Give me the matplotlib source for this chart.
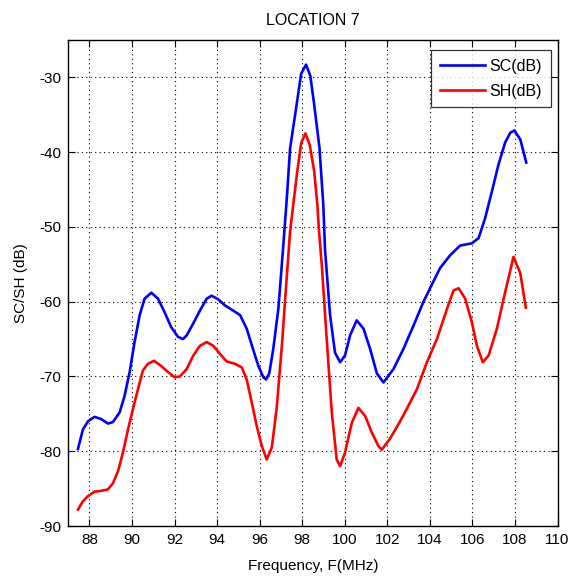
import matplotlib
matplotlib.use('Agg')
import matplotlib.pyplot as plt

# Измеренные уровни сигнала, точка 7
freq_sc = [87.46, 87.69, 87.93, 88.24, 88.55, 88.87, 89.10, 89.42, 89.65, 89.89,
           90.12, 90.36, 90.59, 90.91, 91.22, 91.53, 91.84, 92.16, 92.40, 92.57,
           92.88, 93.19, 93.51, 93.74, 94.06, 94.37, 94.76, 95.08, 95.39, 95.66,
           95.94, 96.17, 96.30, 96.45, 96.64, 96.88, 97.11, 97.28, 97.43, 97.74,
           97.95, 98.18, 98.38, 98.56, 98.81, 98.99, 99.07, 99.31, 99.54, 99.78,
           100.01, 100.25, 100.56, 100.88, 101.19, 101.51, 101.82, 102.29, 102.76, 103.23,
           103.70, 104.01, 104.48, 104.95, 105.42, 105.97, 106.29, 106.60, 106.92, 107.23,
           107.54, 107.78, 107.97, 108.25, 108.53]
sc_db = [-79.7, -77.1, -76.0, -75.4, -75.7, -76.3, -76.1, -74.8, -72.6, -69.4,
         -65.4, -61.8, -59.6, -58.8, -59.6, -61.4, -63.4, -64.7, -65.0, -64.5,
         -62.9, -61.2, -59.6, -59.2, -59.7, -60.5, -61.2, -61.8, -63.6, -66.1,
         -68.6, -70.1, -70.4, -69.6, -66.3, -60.9, -52.5, -46.0, -39.5, -33.6,
         -29.5, -28.3, -29.8, -33.6, -39.4, -47.0, -53.0, -61.8, -66.8, -68.1,
         -67.2, -64.5, -62.5, -63.6, -66.3, -69.6, -70.8, -69.0, -66.3, -63.2,
         -60.0, -58.2, -55.5, -53.8, -52.5, -52.2, -51.5, -48.8, -45.2, -41.6,
         -38.7, -37.4, -37.1, -38.3, -41.4]

freq_sh = [87.46, 87.69, 87.93, 88.24, 88.55, 88.87, 89.10, 89.34, 89.57, 89.81,
           90.04, 90.28, 90.51, 90.75, 91.03, 91.37, 91.69, 92.00, 92.25, 92.57,
           92.88, 93.19, 93.51, 93.82, 94.14, 94.45, 94.84, 95.16, 95.39, 95.63,
           95.86, 96.10, 96.33, 96.57, 96.80, 97.04, 97.27, 97.43, 97.58, 97.77,
           97.95, 98.15, 98.35, 98.56, 98.71, 98.79, 98.92, 99.15, 99.39, 99.62,
           99.78, 100.01, 100.33, 100.64, 100.96, 101.27, 101.58, 101.74, 102.13, 102.60,
           102.92, 103.39, 103.86, 104.33, 104.80, 105.11, 105.35, 105.66, 105.97, 106.21,
           106.49, 106.76, 107.15, 107.54, 107.93, 108.25, 108.51]
sh_db = [-87.8, -86.7, -86.0, -85.4, -85.3, -85.1, -84.3, -82.7, -80.2, -77.1,
         -74.4, -71.7, -69.2, -68.3, -67.9, -68.6, -69.4, -70.1, -70.0, -69.0,
         -67.2, -65.9, -65.4, -65.9, -67.0, -68.0, -68.3, -68.8, -70.4, -73.5,
         -76.6, -79.3, -81.1, -79.5, -74.2, -66.0, -56.8, -50.6, -47.0, -42.5,
         -38.8, -37.5, -39.0, -42.5, -47.0, -50.6, -55.1, -65.0, -74.8, -81.1,
         -82.0, -80.2, -76.2, -74.2, -75.3, -77.5, -79.3, -79.8, -78.3, -76.0,
         -74.3, -71.7, -68.1, -65.0, -61.0, -58.5, -58.2, -59.6, -62.7, -65.9,
         -68.1, -67.2, -63.6, -58.7, -54.0, -56.2, -60.8]

x_ticks = list(range(88, 111, 2))
y_ticks = list(range(-90, -29, 10))

plt.rcParams['font.family'] = ['Liberation Sans', 'DejaVu Sans']
plt.rcParams['font.size'] = 11
plt.rcParams['axes.unicode_minus'] = False

fig = plt.figure(figsize=(5.73, 5.79), dpi=100)
ax = fig.add_axes([0.119, 0.0915, 0.854, 0.8395])

ax.plot(freq_sc, sc_db, color='#0000ff', linewidth=1.9, label='SC(dB)')
ax.plot(freq_sh, sh_db, color='#ff0000', linewidth=1.9, label='SH(dB)')

ax.set_xlim(87, 110)
ax.set_ylim(-90, -25)
ax.set_xticks(x_ticks)
ax.set_yticks(y_ticks)
ax.grid(True, color='black', linestyle=(0, (1, 3)), linewidth=0.8)
ax.tick_params(direction='in', top=True, right=True, length=5, width=0.8,
               labelsize=11, pad=5)
for s in ax.spines.values():
    s.set_linewidth(1.0)

ax.set_title('LOCATION 7', fontsize=11.5, pad=11)
ax.set_xlabel('Frequency, F(MHz)', fontsize=11, labelpad=9)
ax.set_ylabel('SC/SH (dB)', fontsize=11, labelpad=8)

leg = ax.legend(loc='upper right', bbox_to_anchor=(0.986, 0.979),
                fontsize=11.5, frameon=True, fancybox=False,
                handlelength=2.8, borderaxespad=0.0, labelspacing=0.6,
                handletextpad=0.3, borderpad=0.55)
leg.get_frame().set_edgecolor('black')
leg.get_frame().set_linewidth(0.9)

fig.savefig('out.png', dpi=100)
